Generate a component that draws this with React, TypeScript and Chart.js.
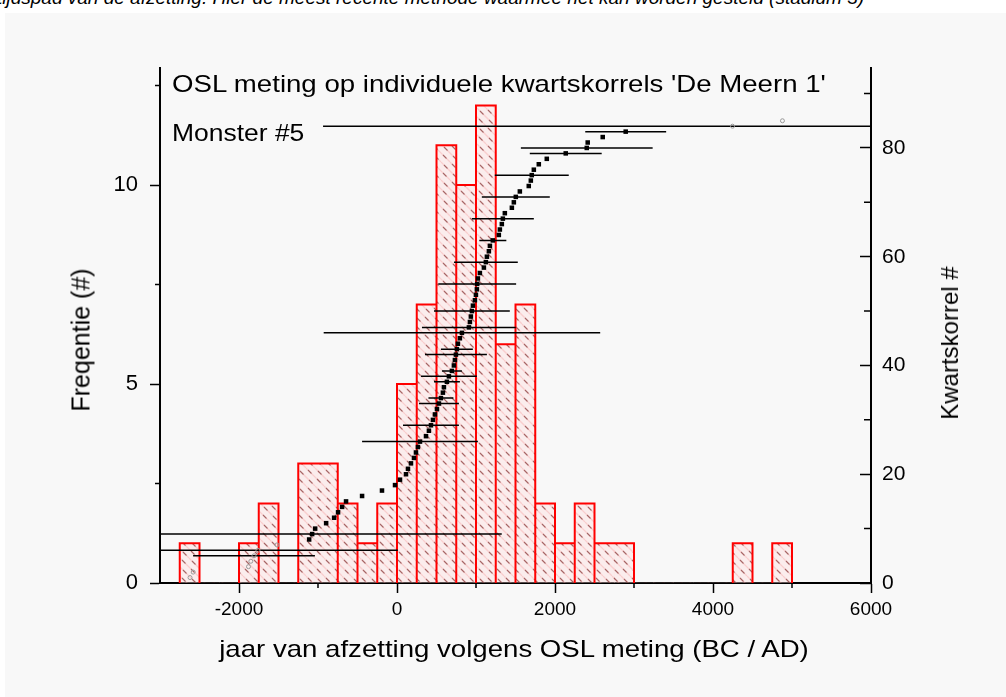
import React, { useEffect, useRef } from 'react';
import { Chart, registerables } from 'chart.js';

Chart.register(...registerables);

const FONT = '"Liberation Sans", Arial, Helvetica, sans-serif';

// Histogram: 250-year bins starting at -2750 BC
const BIN_START = -2750;
const BIN_WIDTH = 250;
const binCounts = [1, 0, 0, 1, 2, 0, 3, 3, 2, 1, 2, 5, 7, 11, 10, 12, 6, 7, 2, 1, 2, 1, 1, 0, 0, 0, 0, 0, 1, 0, 1];

// Individual grains (Kwartskorrel #1..85), age in years BC/AD
const grainAges = [
  -2620, -2580, -1880, -1850, -1810, -1760, -1520, -1112, -1074, -1036,
  -897, -796, -746, -695, -645, -442, -190, -25, 38, 114,
  139, 177, 215, 240, 265, 291, 367, 404, 430, 455,
  480, 506, 531, 556, 581, 594, 632, 657, 695, 720,
  733, 746, 758, 771, 796, 822, 910, 923, 935, 948,
  961, 986, 999, 1011, 1015, 1024, 1049, 1100, 1125, 1138,
  1163, 1176, 1213, 1289, 1302, 1327, 1340, 1365, 1454, 1479,
  1504, 1555, 1668, 1694, 1706, 1732, 1795, 1896, 2136, 2402,
  2414, 2604, 2895, 4247, 4879,
];
// Grains drawn with open (faint) symbols
const openRanks = [1, 2, 3, 4, 5, 6, 7, 84, 85];

// Horizontal error bars: grain rank and half width (years)
const errRanks = [5, 6, 9, 26, 29, 33, 34, 37, 38, 39, 42, 43, 46, 47, 50, 55, 59, 63, 67, 71, 75, 79, 80, 83, 84];
const errHalfWidths = [771, 1770, 2400, 733, 354, 253, 158, 164, 354, 126, 392, 202, 1750, 594, 480, 493, 404, 171, 392, 430, 468, 455, 834, 512, 5183];

// Axis ticks
const xTicks = [-2000, 0, 2000, 4000, 6000];
const xMinorTicks = [-1000, 1000, 3000, 5000];
const yTicks = [0, 5, 10];
const yMinorTicks = [2.5, 7.5, 12.5];
const y2Ticks = [0, 20, 40, 60, 80];
const y2MinorTicks = [10, 30, 50, 70, 90];

function makeHatch(): CanvasPattern | string {
  const c = document.createElement('canvas');
  c.width = 18;
  c.height = 18;
  const g = c.getContext('2d');
  if (!g) return 'rgba(255,200,200,0.4)';
  g.fillStyle = 'rgba(255,225,225,0.45)';
  g.fillRect(0, 0, 18, 18);
  g.strokeStyle = 'rgba(245,160,160,0.4)';
  g.lineWidth = 1.3;
  for (const off of [-18, -9, 0, 9, 18]) {
    g.beginPath();
    g.moveTo(off, 0);
    g.lineTo(off + 18, 18);
    g.stroke();
  }
  g.strokeStyle = 'rgba(110,35,35,0.6)';
  g.lineWidth = 1.1;
  const dashes = [[2, 2], [12, 3], [3, 12], [11, 11]];
  for (const [a, b] of dashes) {
    g.beginPath();
    g.moveTo(a, b);
    g.lineTo(a + 3.5, b + 3.5);
    g.stroke();
  }
  return g.createPattern(c, 'repeat') || 'rgba(255,200,200,0.4)';
}

function buildOutline() {
  const pts: { x: number; y: number | null }[] = [];
  let inRun = false;
  for (let i = 0; i < binCounts.length; i++) {
    const s = BIN_START + i * BIN_WIDTH;
    const e = s + BIN_WIDTH;
    const h = binCounts[i];
    if (h === 0) {
      if (inRun) {
        pts.push({ x: s, y: null });
        inRun = false;
      }
      continue;
    }
    if (!inRun) {
      pts.push({ x: s, y: 0 });
      pts.push({ x: s, y: h });
      inRun = true;
    } else if (binCounts[i - 1] !== h) {
      pts.push({ x: s, y: 0 });
      pts.push({ x: s, y: h });
    }
    pts.push({ x: e, y: h });
    const next = i + 1 < binCounts.length ? binCounts[i + 1] : 0;
    if (next !== h) pts.push({ x: e, y: 0 });
  }
  return pts;
}

function buildErrorBars() {
  const pts: { x: number; y: number | null }[] = [];
  errRanks.forEach((r, i) => {
    const c = grainAges[r - 1];
    const e = errHalfWidths[i];
    pts.push({ x: c - e, y: r });
    pts.push({ x: c + e, y: r });
    pts.push({ x: c, y: null });
  });
  return pts;
}

const minorTickPlugin = {
  id: 'minorTicks',
  afterDraw(chart: any) {
    const ctx = chart.ctx as CanvasRenderingContext2D;
    const { x, y, y2 } = chart.scales;
    ctx.save();
    ctx.strokeStyle = '#000';
    ctx.lineWidth = 1.5;
    ctx.beginPath();
    for (const v of xMinorTicks) {
      const px = x.getPixelForValue(v);
      ctx.moveTo(px, x.top);
      ctx.lineTo(px, x.top + 5);
    }
    for (const v of yMinorTicks) {
      const py = y.getPixelForValue(v);
      ctx.moveTo(y.right, py);
      ctx.lineTo(y.right - 5, py);
    }
    for (const v of y2MinorTicks) {
      const py = y2.getPixelForValue(v);
      ctx.moveTo(y2.left, py);
      ctx.lineTo(y2.left - 7, py);
    }
    ctx.stroke();
    ctx.restore();
  },
};

export default function App() {
  const ref = useRef<HTMLCanvasElement>(null);

  useEffect(() => {
    if (!ref.current) return;
    const hatch = makeHatch();
    const barData = binCounts.map((c, i) => ({ x: BIN_START + BIN_WIDTH * (i + 0.5), y: c }));
    const filled = grainAges
      .map((a, i) => ({ x: a, y: i + 1 }))
      .filter((p) => !openRanks.includes(p.y));
    const open = grainAges
      .map((a, i) => ({ x: a, y: i + 1 }))
      .filter((p) => openRanks.includes(p.y));

    const chart = new Chart(ref.current, {
      type: 'bar',
      data: {
        datasets: [
          {
            type: 'bar',
            label: 'Frequentie',
            data: barData as any,
            backgroundColor: hatch as any,
            borderWidth: 0,
            barPercentage: 1,
            categoryPercentage: 1,
            xAxisID: 'x',
            yAxisID: 'y',
            order: 4,
          },
          {
            type: 'line',
            label: 'outline',
            data: buildOutline() as any,
            borderColor: '#ff0000',
            borderWidth: 2,
            pointRadius: 0,
            fill: false,
            tension: 0,
            spanGaps: false,
            xAxisID: 'x',
            yAxisID: 'y',
            order: 3,
          },
          {
            type: 'line',
            label: 'errorbars',
            data: buildErrorBars() as any,
            borderColor: '#000',
            borderWidth: 1.5,
            pointRadius: 0,
            fill: false,
            tension: 0,
            spanGaps: false,
            xAxisID: 'x',
            yAxisID: 'y2',
            order: 2,
          },
          {
            type: 'scatter',
            label: 'Kwartskorrel',
            data: filled as any,
            pointStyle: 'rect',
            pointRadius: 3.2,
            backgroundColor: '#000',
            borderColor: '#000',
            borderWidth: 0,
            xAxisID: 'x',
            yAxisID: 'y2',
            order: 1,
          },
          {
            type: 'scatter',
            label: 'open',
            data: open as any,
            pointStyle: 'circle',
            pointRadius: 2,
            backgroundColor: 'rgba(0,0,0,0)',
            borderColor: '#999',
            borderWidth: 1,
            xAxisID: 'x',
            yAxisID: 'y2',
            order: 0,
          },
        ],
      },
      options: {
        animation: false,
        responsive: false,
        devicePixelRatio: 1,
        events: [],
        layout: { padding: { top: 68, left: 0, right: 0, bottom: 0 } },
        plugins: {
          legend: { display: false },
          tooltip: { enabled: false },
          title: { display: false },
        },
        scales: {
          x: {
            type: 'linear',
            position: 'bottom',
            min: -3000,
            max: 6000,
            offset: false,
            afterBuildTicks: (s: any) => {
              s.ticks = xTicks.map((v) => ({ value: v }));
            },
            afterFit: (s: any) => {
              s.height = 114;
            },
            ticks: {
              callback: (v: any) => String(v),
              color: '#000',
              font: { family: FONT, size: 19 },
              padding: 5,
              maxRotation: 0,
              autoSkip: false,
            },
            grid: {
              drawOnChartArea: false,
              drawTicks: true,
              tickLength: 10,
              tickColor: '#000',
              tickWidth: 1.5,
              offset: false,
            },
            border: { display: true, color: '#000', width: 2 },
          },
          y: {
            type: 'linear',
            position: 'left',
            min: 0,
            max: 12.94,
            afterBuildTicks: (s: any) => {
              s.ticks = yTicks.map((v) => ({ value: v }));
            },
            afterFit: (s: any) => {
              s.width = 160;
            },
            ticks: {
              callback: (v: any) => String(v),
              color: '#000',
              font: { family: FONT, size: 22 },
              padding: 12,
              autoSkip: false,
            },
            grid: {
              drawOnChartArea: false,
              drawTicks: true,
              tickLength: 10,
              tickColor: '#000',
              tickWidth: 1.5,
            },
            border: { display: true, color: '#000', width: 2 },
          },
          y2: {
            type: 'linear',
            position: 'right',
            min: 0,
            max: 94.7,
            afterBuildTicks: (s: any) => {
              s.ticks = y2Ticks.map((v) => ({ value: v }));
            },
            afterFit: (s: any) => {
              s.width = 135;
            },
            ticks: {
              callback: (v: any) => String(v),
              color: '#000',
              font: { family: FONT, size: 21 },
              padding: 22,
              autoSkip: false,
            },
            grid: {
              drawOnChartArea: false,
              drawTicks: true,
              tickLength: -11,
              tickColor: '#000',
              tickWidth: 1.5,
            },
            border: { display: true, color: '#000', width: 2 },
          },
        },
      } as any,
      plugins: [minorTickPlugin],
    });
    return () => chart.destroy();
  }, []);

  const abs = { position: 'absolute' as const, whiteSpace: 'nowrap' as const, lineHeight: 1, color: '#000' };

  return (
    <div
      style={{
        position: 'absolute',
        left: 0,
        top: 0,
        width: 1006,
        height: 697,
        background: '#ffffff',
        overflow: 'hidden',
        fontFamily: FONT,
      }}
    >
      <div style={{ ...abs, left: -3, top: -12, fontSize: 19, fontStyle: 'italic' }}>
        tijdspad van de afzetting. Hier de meest recente methode waarmee het kan worden gesteld (stadium 3)
      </div>
      <div style={{ position: 'absolute', left: 5, top: 13, right: 0, bottom: 0, background: '#f8f8f8' }} />
      <canvas ref={ref} width={1006} height={697} style={{ position: 'absolute', left: 0, top: 0 }} />
      <div style={{ ...abs, left: 172, top: 71.7, fontSize: 24, transform: 'scaleX(1.15)', transformOrigin: 'left top' }}>
        OSL meting op individuele kwartskorrels 'De Meern 1'
      </div>
      <div style={{ ...abs, left: 172, top: 121.5, fontSize: 23, transform: 'scaleX(1.15)', transformOrigin: 'left top' }}>
        Monster #5
      </div>
      <div style={{ ...abs, left: 514, top: 636.7, fontSize: 24, transform: 'translateX(-50%) scaleX(1.15)' }}>
        jaar van afzetting volgens OSL meting (BC / AD)
      </div>
      <div style={{ ...abs, left: 81, top: 340, fontSize: 25, transform: 'translate(-50%, -50%) rotate(-90deg)' }}>
        Freqentie (#)
      </div>
      <div style={{ ...abs, left: 950, top: 343, fontSize: 24, transform: 'translate(-50%, -50%) rotate(-90deg)' }}>
        Kwartskorrel #
      </div>
    </div>
  );
}
